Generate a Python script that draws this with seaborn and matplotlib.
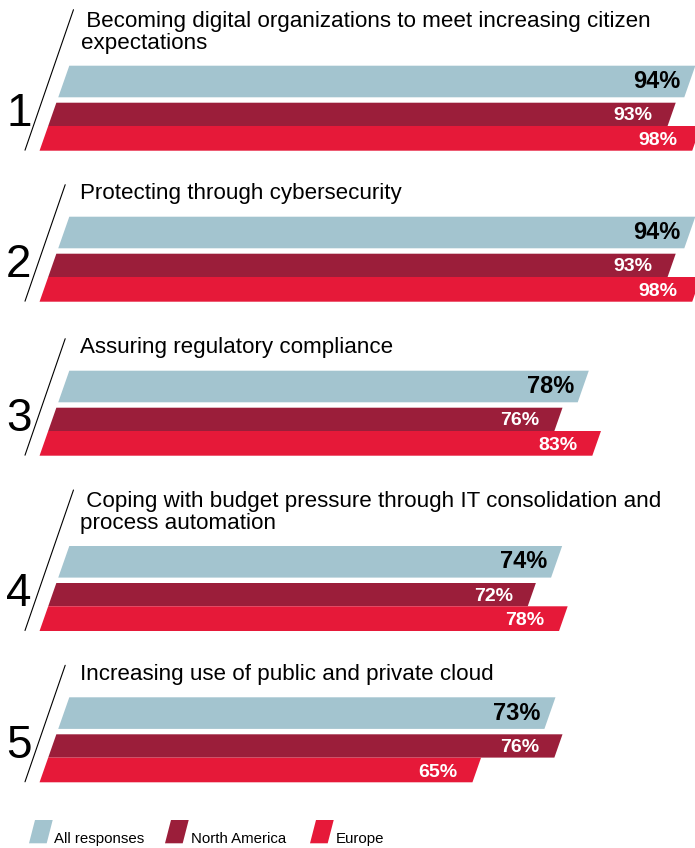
import matplotlib
matplotlib.use("Agg")
import matplotlib.pyplot as plt
import matplotlib.transforms as mtransforms
from matplotlib.patches import Polygon
import pandas as pd
import seaborn as sns

sns.set_theme(style="white")
plt.rcParams['font.family'] = ['Liberation Sans', 'DejaVu Sans']

# data
titles = [
    " Becoming digital organizations to meet increasing citizen\nexpectations",
    "Protecting through cybersecurity",
    "Assuring regulatory compliance",
    " Coping with budget pressure through IT consolidation and\nprocess automation",
    "Increasing use of public and private cloud",
]
series = ["All responses", "North America", "Europe"]
all_responses = [94, 94, 78, 74, 73]
north_america = [93, 93, 76, 72, 76]
europe = [98, 98, 83, 78, 65]
colors = ["#a3c4cf", "#9b1e3a", "#e61939"]

# layout (pixels)
W, H = 695, 848
group_tops = [65.7, 216.7, 370.7, 546, 697.3]
band = 85
px_per_pct = 6.66
x_zero = 69.3
slope = 0.35
bar_rows = [(0, 31.6), (37, 60.3), (60.3, 85)]
label_gap = [6.8, 13.7, 13.7]
label_size = [17, 14, 14]
label_dy = [0, -1, -1.5]
label_color = ["black", "white", "white"]

fig = plt.figure(figsize=(W / 100, H / 100), dpi=100)
bg = fig.add_axes([0, 0, 1, 1])
bg.set_xlim(0, W)
bg.set_ylim(H, 0)
bg.axis('off')

py = band / 3
k = slope * py / px_per_pct
shear = mtransforms.Affine2D.from_values(1, 0, -k, 1, -0.5 * k, 0)

for i, top in enumerate(group_tops):
    vals = [all_responses[i], north_america[i], europe[i]]
    df = pd.DataFrame({"series": series, "value": vals})
    ax = fig.add_axes([0, 1 - (top + band) / H, 1, band / H])
    sns.barplot(data=df, x="value", y="series", hue="series", hue_order=series,
                order=series, palette=colors, orient="h", saturation=1,
                legend=False, ax=ax)
    ax.set_xlim(-x_zero / px_per_pct, (W - x_zero) / px_per_pct)
    ax.set_ylim(2.5, -0.5)
    ax.axis('off')
    tr = shear + ax.transData
    for bar in ax.patches:
        j = int(round(bar.get_y() + bar.get_height() / 2))
        y0, y1 = bar_rows[j]
        bar.set_y(-0.5 + y0 / py)
        bar.set_height((y1 - y0) / py)
        bar.set_linewidth(0)
        bar.set_transform(tr)
        bar.set_clip_on(False)
        yc = -0.5 + (y0 + y1) / 2 / py
        ax.annotate(f"{vals[j]}%", xy=(vals[j], yc), xycoords=tr,
                    xytext=(-label_gap[j], label_dy[j]), textcoords="offset points",
                    ha="right", va="center", fontsize=label_size[j],
                    fontweight="bold", color=label_color[j])

    # group number, slanted rule and title
    bg.text(6, top + 60.5, str(i + 1), fontsize=33, ha="left", va="baseline", color="black")
    lines = titles[i].split("\n")
    rule_top = -56 if len(lines) > 1 else -32
    bg.plot([25 + 0.345 * (84.5 - rule_top), 25], [top + rule_top, top + 84.5],
            color="black", lw=0.8)
    for n, line in enumerate(lines):
        base = top - 17.2 - 22 * (len(lines) - 1 - n)
        bg.text(80.5, base, line, fontsize=16.1, ha="left", va="baseline", color="black")

# legend
legend_x = [29, 165, 310]
legend_text_x = [53.5, 190.7, 335.3]
for name, color, lx, tx in zip(series, colors, legend_x, legend_text_x):
    bg.add_patch(Polygon([(lx, 843.3), (lx + 17.7, 843.3), (lx + 23.7, 820), (lx + 6, 820)],
                         closed=True, facecolor=color, edgecolor="none"))
    bg.text(tx, 843.3, name, fontsize=10.8, ha="left", va="baseline", color="black")

fig.savefig("out.png", dpi=100, facecolor="white")
